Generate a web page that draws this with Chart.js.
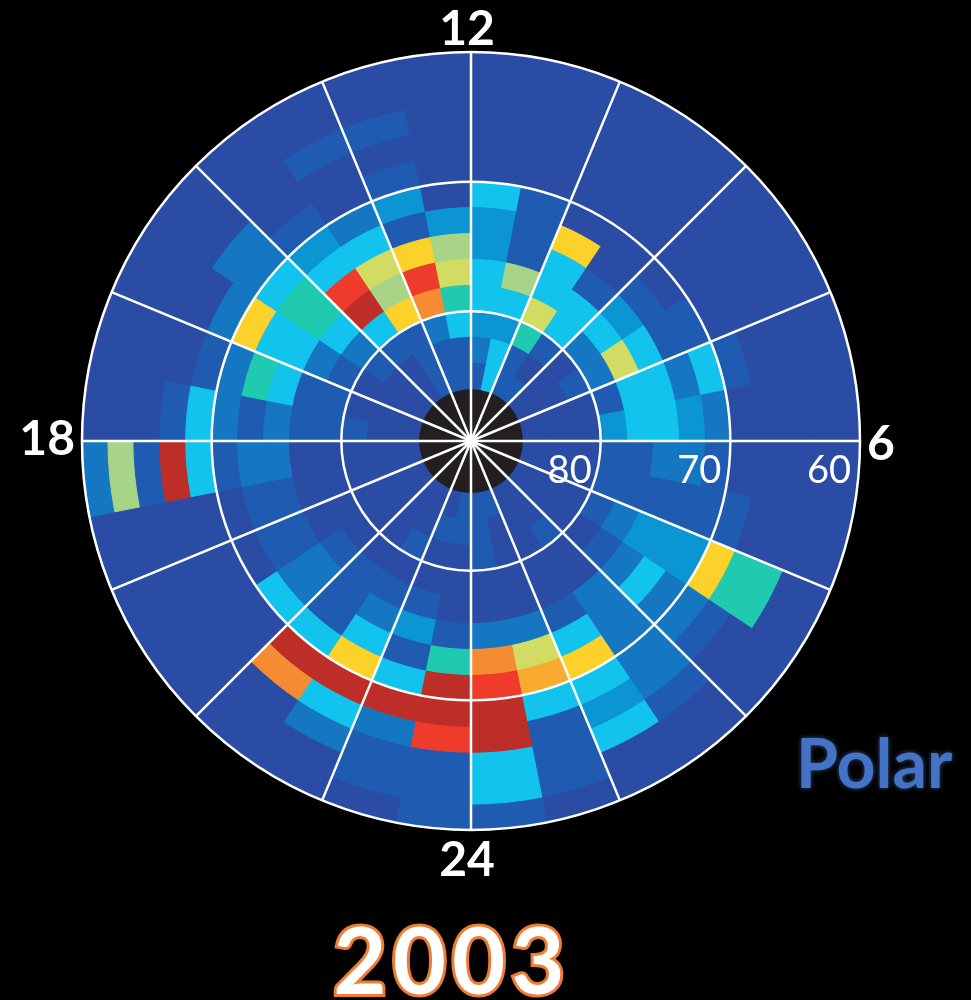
<!DOCTYPE html>
<html>
<head>
<meta charset="utf-8">
<script src="https://cdn.jsdelivr.net/npm/chart.js@4.4.1/dist/chart.umd.min.js"></script>
<style>
  html, body { margin: 0; padding: 0; background: #000; }
  #wrap { position: relative; width: 971px; height: 1000px; overflow: hidden; }
  #polar { position: absolute; left: 0; top: 0; }
  .sat {
    position: absolute; left: 796px; top: 728px;
    font: bold 68px Lato, sans-serif; line-height: 68px;
    color: #4472c4; text-shadow: 0 0 5px rgba(90, 130, 210, 0.6);
  }
  .year {
    position: absolute; left: 0; width: 904px; top: 913px; text-align: center;
    font: bold 92px Lato, sans-serif; line-height: 92px; letter-spacing: 6px;
    color: #fff; -webkit-text-stroke: 6px #ee7d31; paint-order: stroke fill;
  }
</style>
</head>
<body>
<div id="wrap">
  <canvas id="polar" width="971" height="1000"></canvas>
  <div class="sat">Polar</div>
  <div class="year">2003</div>
</div>
<script>
// MLT bins (0.75 h), starting at noon and running clockwise
const mltBins = ['12:00', '11:15', '10:30', '09:45', '09:00', '08:15', '07:30', '06:45',
                 '06:00', '05:15', '04:30', '03:45', '03:00', '02:15', '01:30', '00:45',
                 '24:00', '23:15', '22:30', '21:45', '21:00', '20:15', '19:30', '18:45',
                 '18:00', '17:15', '16:30', '15:45', '15:00', '14:15', '13:30', '12:45'];

// magnetic latitude bin edges, pole side first
const latEdges = [86, 84, 82, 80, 78, 76, 74, 72, 70, 68, 66, 64, 62, 60];

// occurrence level per MLT bin, one array per 2-degree latitude band
const band86 = [1, 4, 1, 1, 0, 0, 0, 0, 0, 0, 0, 0, 0, 0, 1, 1, 1, 0, 0, 0, 0, 0, 0, 0, 0, 0, 0, 0, 0, 1, 1, 1];
const band84 = [2, 4, 1, 0, 0, 0, 0, 0, 0, 0, 0, 0, 0, 0, 0, 1, 1, 1, 0, 0, 0, 0, 0, 0, 0, 0, 0, 0, 0, 1, 1, 1];
const band82 = [3, 3, 5, 1, 0, 1, 0, 0, 0, 0, 0, 0, 1, 0, 0, 1, 0, 0, 1, 0, 0, 0, 0, 0, 1, 0, 0, 1, 1, 1, 2, 4];
const band80 = [4, 4, 7, 4, 2, 2, 1, 3, 1, 1, 1, 0, 0, 0, 0, 0, 0, 0, 0, 0, 0, 0, 0, 0, 1, 1, 1, 2, 4, 8, 10, 5];
const band78 = [4, 6, 4, 4, 4, 7, 4, 4, 1, 1, 2, 1, 0, 0, 0, 0, 0, 1, 1, 1, 1, 0, 0, 0, 1, 1, 2, 4, 12, 6, 11, 7];
const band76 = [3, 1, 4, 1, 3, 4, 4, 4, 2, 1, 3, 2, 2, 1, 2, 2, 1, 3, 2, 1, 2, 1, 1, 2, 2, 4, 4, 5, 11, 7, 8, 6];
const band74 = [3, 1, 8, 0, 1, 1, 2, 3, 2, 1, 3, 4, 2, 4, 7, 10, 5, 1, 4, 1, 2, 1, 1, 2, 1, 5, 4, 5, 4, 4, 1, 3];
const band72 = [4, 1, 0, 0, 0, 1, 4, 2, 1, 1, 3, 2, 2, 8, 9, 11, 12, 4, 8, 4, 4, 0, 0, 1, 2, 2, 8, 4, 3, 2, 3, 0];
const band70 = [0, 0, 0, 0, 0, 0, 1, 0, 0, 1, 8, 2, 2, 4, 4, 12, 12, 12, 12, 12, 0, 0, 0, 4, 4, 1, 2, 2, 1, 0, 1, 0];
const band68 = [0, 0, 0, 0, 0, 0, 0, 0, 0, 0, 5, 1, 2, 3, 1, 12, 11, 2, 4, 10, 0, 0, 0, 12, 1, 0, 0, 2, 0, 0, 0, 0];
const band66 = [0, 0, 0, 0, 0, 0, 0, 0, 0, 0, 5, 0, 1, 4, 1, 4, 1, 1, 2, 0, 0, 0, 0, 1, 0, 0, 0, 0, 0, 1, 1, 0];
const band64 = [0, 0, 0, 0, 0, 0, 0, 0, 0, 0, 0, 0, 0, 0, 1, 4, 1, 1, 0, 0, 0, 0, 0, 6, 0, 0, 0, 0, 0, 0, 0, 0];
const band62 = [0, 0, 0, 0, 0, 0, 0, 0, 0, 0, 0, 0, 0, 0, 0, 1, 1, 0, 0, 0, 0, 0, 0, 2, 0, 0, 0, 0, 0, 0, 0, 0];
const bands = [band86, band84, band82, band80, band78, band76, band74, band72, band70, band68, band66, band64, band62];

// hour labels around the rim and the bins they sit on
const hourLabels = ['12', '6', '24', '18'];
const hourIndex = [0, 8, 16, 24];

// jet-like colour scale, low to high
const levelColors = ['#2b4ca4', '#1f5cb1', '#1576c2', '#0b95d3', '#12c3ee', '#1fcab0',
                     '#a8d487', '#d2db62', '#fcd12a', '#f8ab2e', '#f58b32', '#ef3b2c', '#be2e29'];

const poleDisk = {
  id: 'poleDisk',
  afterDatasetsDraw(chart) {
    const s = chart.scales.r, ctx = chart.ctx;
    ctx.save();
    ctx.beginPath();
    ctx.arc(s.xCenter, s.yCenter, s.getDistanceFromCenterForValue(90 - latEdges[0]), 0, Math.PI * 2);
    ctx.fillStyle = '#231f20';
    ctx.fill();
    ctx.restore();
  }
};

const rimLabels = {
  id: 'rimLabels',
  afterDraw(chart) {
    const s = chart.scales.r, ctx = chart.ctx;
    const R = s.drawingArea, cx = s.xCenter, cy = s.yCenter;
    ctx.save();
    ctx.fillStyle = '#fff';
    ctx.font = 'bold 48px Lato, sans-serif';
    ctx.textBaseline = 'alphabetic';
    hourLabels.forEach((txt, i) => {
      const a = s.getIndexAngle(hourIndex[i]) - Math.PI / 2;
      const dx = Math.cos(a), dy = Math.sin(a);
      let x, y;
      if (Math.abs(dy) > 0.5) {
        ctx.textAlign = 'center';
        x = cx - 4;
        y = dy < 0 ? cy - R - 7 : cy + R + 46;
      } else {
        ctx.textAlign = dx > 0 ? 'left' : 'right';
        x = cx + dx * (R + 7);
        y = dx > 0 ? cy + 19 : cy + 14;
      }
      ctx.fillText(txt, x, y);
    });
    // latitude ticks along the dawn meridian
    ctx.font = '38px Lato, sans-serif';
    ctx.textAlign = 'right';
    s.ticks.forEach(t => {
      if (t.value === 0) return;
      ctx.fillText(t.label, cx + s.getDistanceFromCenterForValue(t.value) - 9, cy + 42);
    });
    ctx.restore();
  }
};

new Chart(document.getElementById('polar'), {
  type: 'polarArea',
  data: {
    labels: mltBins,
    datasets: bands.map((vals, j) => ({
      data: mltBins.map(() => 90 - latEdges[j + 1]),
      backgroundColor: vals.map(v => levelColors[v]),
      borderColor: vals.map(v => levelColors[v]),
      borderWidth: 1
    }))
  },
  options: {
    responsive: false,
    animation: false,
    layout: { padding: { left: 82, top: 52, right: 111, bottom: 170 } },
    plugins: { legend: { display: false }, tooltip: { enabled: false } },
    scales: {
      r: {
        min: 0,
        max: 30,
        startAngle: 0,
        ticks: { stepSize: 10, display: false, callback: v => String(90 - v) },
        grid: { color: '#fff', lineWidth: 2.5, circular: true, z: 1 },
        angleLines: { display: true, color: '#fff', lineWidth: c => (c.index % 2 ? 0 : 2.5) },
        pointLabels: { display: false }
      }
    }
  },
  plugins: [poleDisk, rimLabels]
});
</script>
</body>
</html>
